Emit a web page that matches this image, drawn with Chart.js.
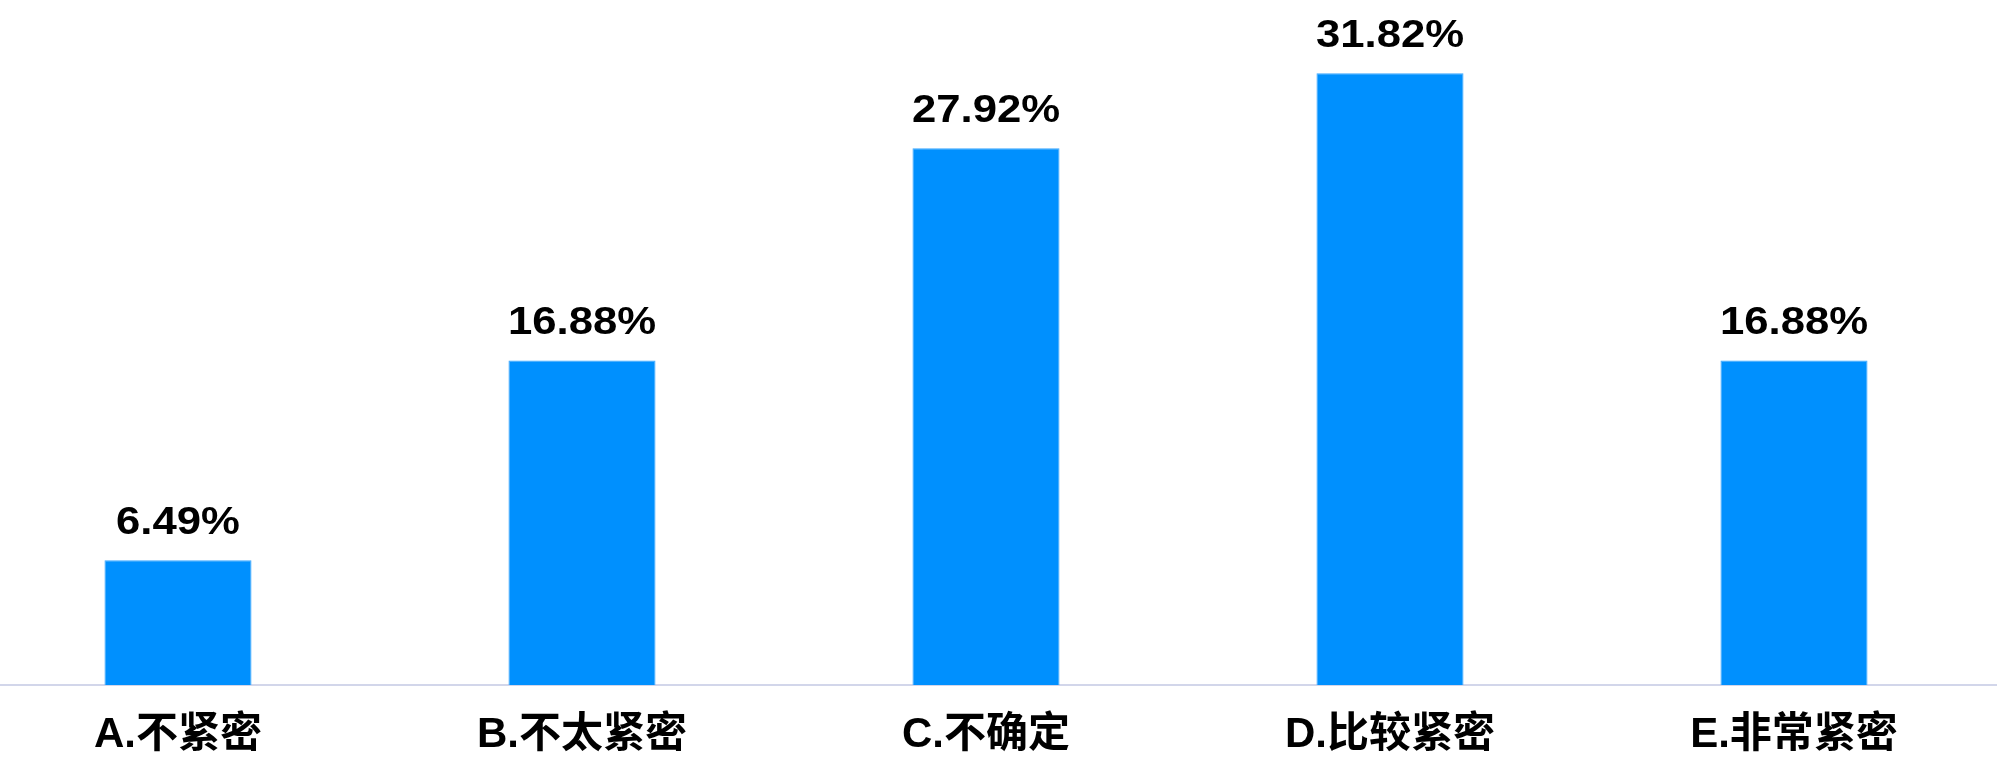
<!DOCTYPE html>
<html lang="zh-CN">
<head>
    <meta charset="UTF-8">
    <title>紧密程度</title>
    <script src="https://cdn.jsdelivr.net/npm/chart.js"></script>
    <style>
        html, body { margin: 0; padding: 0; background: #fff; overflow: hidden; }
        .chart-box { position: absolute; left: -24px; top: 0; width: 2024px; height: 765px; }
    </style>
</head>
<body>
    <div class="chart-box">
        <canvas id="barChart"></canvas>
    </div>
    <script>
        // 数据
        const categories = ['A.不紧密', 'B.不太紧密', 'C.不确定', 'D.比较紧密', 'E.非常紧密'];
        const percents = [6.49, 16.88, 27.92, 31.82, 16.88];

        const fontFamily = '"Liberation Sans", "Noto Sans CJK SC", sans-serif';

        // 柱顶百分比标签
        const valueLabels = {
            id: 'valueLabels',
            afterDatasetsDraw(chart) {
                const ctx = chart.ctx;
                const meta = chart.getDatasetMeta(0);
                ctx.save();
                ctx.fillStyle = '#000';
                ctx.font = 'bold 39px ' + fontFamily;
                ctx.textAlign = 'center';
                ctx.textBaseline = 'middle';
                meta.data.forEach((bar, i) => {
                    ctx.save();
                    ctx.translate(bar.x, bar.y - 37);
                    ctx.scale(1.12, 1);
                    ctx.fillText(percents[i].toFixed(2) + '%', 0, 0);
                    ctx.restore();
                });
                ctx.restore();
            }
        };

        new Chart(document.getElementById('barChart'), {
            type: 'bar',
            data: {
                labels: categories,
                datasets: [{
                    data: percents,
                    backgroundColor: '#0090fe',
                    borderColor: '#3aa6ff',
                    borderWidth: 1,
                    barPercentage: 0.364,
                    categoryPercentage: 1
                }]
            },
            options: {
                responsive: true,
                maintainAspectRatio: false,
                animation: false,
                layout: { padding: { top: 12, right: 4, left: 0, bottom: 0 } },
                plugins: {
                    legend: { display: false },
                    tooltip: { enabled: false }
                },
                scales: {
                    x: {
                        grid: { display: false, drawTicks: false },
                        border: { display: true, color: '#d2d6ea', width: 2 },
                        ticks: {
                            color: '#000',
                            padding: 25,
                            font: { family: fontFamily, size: 42, weight: 'bold' }
                        },
                        afterFit(scale) { scale.height = 80; }
                    },
                    y: {
                        display: false,
                        min: 0,
                        max: 35
                    }
                }
            },
            plugins: [valueLabels]
        });
    </script>
</body>
</html>
